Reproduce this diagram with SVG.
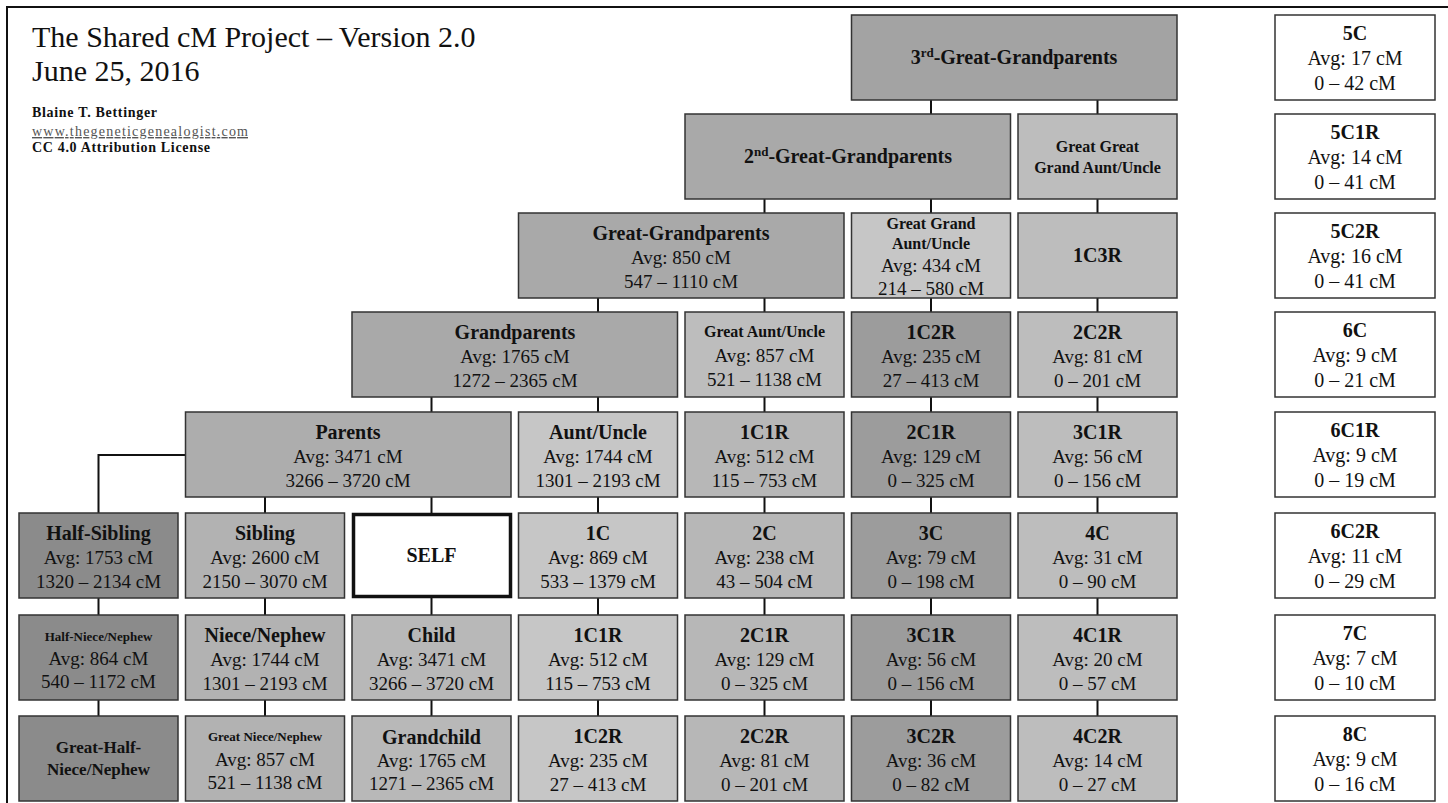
<svg xmlns="http://www.w3.org/2000/svg" width="1448" height="803" viewBox="0 0 1448 803">
<defs>
<style>
.bg{fill:#fff}
.frame{fill:none;stroke:#111;stroke-width:2}
.box{stroke:#333;stroke-width:1.5}
.self{fill:#fff;stroke:#111;stroke-width:3.5}
.t{font-family:"Liberation Serif","Times New Roman",serif;fill:#111;text-anchor:middle}
.b{font-weight:bold;font-size:20px}
.v{font-size:19px}
.r{font-size:20px}
.s16{font-weight:bold;font-size:16px}
.s13{font-weight:bold;font-size:13px}
.s17{font-weight:bold;font-size:17px}
.hd{font-family:"Liberation Serif","Times New Roman",serif;fill:#111}
.conn line,.conn path{stroke:#111;stroke-width:2;fill:none}
.f3g{fill:#a3a3a3}.fan{fill:#a9a9a9}.fpa{fill:#adadad}.fl{fill:#c6c6c6}.fc5{fill:#b7b7b7}.fc6{fill:#9c9c9c}.fc7{fill:#bdbdbd}.fc1{fill:#8b8b8b}.fc2{fill:#b2b2b2}.fc3{fill:#b8b8b8}.fw{fill:#fff}
</style>
</defs>
<rect class="bg" x="0" y="0" width="1448" height="803"/>
<path class="frame" d="M7,803 V7 H1448"/>

<g id="header">
<text class="hd" x="32" y="47" font-size="30">The Shared cM Project – Version 2.0</text>
<text class="hd" x="32" y="81" font-size="30">June 25, 2016</text>
<text class="hd" x="32" y="117" font-size="14" font-weight="bold" textLength="125" lengthAdjust="spacing">Blaine T. Bettinger</text>
<text class="hd" x="32" y="136" font-size="14" fill="#555" style="fill:#555" text-decoration="underline" textLength="216" lengthAdjust="spacing">www.thegeneticgenealogist.com</text>
<text class="hd" x="32" y="152" font-size="14" font-weight="bold" textLength="178" lengthAdjust="spacing">CC 4.0 Attribution License</text>
</g>

<g id="connectors" class="conn">
<line x1="931" y1="100" x2="931" y2="114"/>
<line x1="1097.5" y1="100" x2="1097.5" y2="114"/>
<line x1="764.5" y1="199" x2="764.5" y2="213"/>
<line x1="931" y1="199" x2="931" y2="213"/>
<line x1="1097.5" y1="199" x2="1097.5" y2="213"/>
<line x1="598" y1="298" x2="598" y2="312"/>
<line x1="764.5" y1="298" x2="764.5" y2="312"/>
<line x1="931" y1="298" x2="931" y2="312"/>
<line x1="1097.5" y1="298" x2="1097.5" y2="312"/>
<line x1="431.5" y1="397" x2="431.5" y2="412"/>
<line x1="598" y1="397" x2="598" y2="412"/>
<line x1="764.5" y1="397" x2="764.5" y2="412"/>
<line x1="931" y1="397" x2="931" y2="412"/>
<line x1="1097.5" y1="397" x2="1097.5" y2="412"/>
<path d="M185.5,455 H98.5 V513"/>
<line x1="265" y1="497" x2="265" y2="513"/>
<line x1="431.5" y1="497" x2="431.5" y2="513"/>
<line x1="598" y1="497" x2="598" y2="513"/>
<line x1="764.5" y1="497" x2="764.5" y2="513"/>
<line x1="931" y1="497" x2="931" y2="513"/>
<line x1="1097.5" y1="497" x2="1097.5" y2="513"/>
<line x1="98.5" y1="598" x2="98.5" y2="615"/>
<line x1="265" y1="598" x2="265" y2="615"/>
<line x1="431.5" y1="598" x2="431.5" y2="615"/>
<line x1="598" y1="598" x2="598" y2="615"/>
<line x1="764.5" y1="598" x2="764.5" y2="615"/>
<line x1="931" y1="598" x2="931" y2="615"/>
<line x1="1097.5" y1="598" x2="1097.5" y2="615"/>
<line x1="98.5" y1="700" x2="98.5" y2="716"/>
<line x1="265" y1="700" x2="265" y2="716"/>
<line x1="431.5" y1="700" x2="431.5" y2="716"/>
<line x1="598" y1="700" x2="598" y2="716"/>
<line x1="764.5" y1="700" x2="764.5" y2="716"/>
<line x1="931" y1="700" x2="931" y2="716"/>
<line x1="1097.5" y1="700" x2="1097.5" y2="716"/>
</g>

<!-- Row 1 -->
<g id="n-3ggp"><rect class="box f3g" x="851.5" y="15" width="325.5" height="85"/>
<text class="t b" x="1014" y="64">3<tspan font-size="13" dy="-7">rd</tspan><tspan dy="7">-Great-Grandparents</tspan></text></g>
<g id="n-5c"><rect class="box fw" x="1275" y="15" width="160" height="85"/>
<text class="t b" x="1355" y="40">5C</text><text class="t r" x="1355" y="65">Avg: 17 cM</text><text class="t r" x="1355" y="90">0 – 42 cM</text></g>

<!-- Row 2 -->
<g id="n-2ggp"><rect class="box fan" x="685" y="114" width="325.5" height="85"/>
<text class="t b" x="848" y="163">2<tspan font-size="13" dy="-7">nd</tspan><tspan dy="7">-Great-Grandparents</tspan></text></g>
<g id="n-ggga"><rect class="box fc7" x="1018" y="114" width="159" height="85"/>
<text class="t s16" x="1097.5" y="152">Great Great</text><text class="t s16" x="1097.5" y="173">Grand Aunt/Uncle</text></g>
<g id="n-5c1r"><rect class="box fw" x="1275" y="114" width="160" height="85"/>
<text class="t b" x="1355" y="139">5C1R</text><text class="t r" x="1355" y="164">Avg: 14 cM</text><text class="t r" x="1355" y="189">0 – 41 cM</text></g>

<!-- Row 3 -->
<g id="n-ggp"><rect class="box fan" x="518.5" y="213" width="325.5" height="85"/>
<text class="t b" x="681" y="240">Great-Grandparents</text><text class="t v" x="681" y="264">Avg: 850 cM</text><text class="t v" x="681" y="288">547 – 1110 cM</text></g>
<g id="n-gga"><rect class="box fl" x="851.5" y="213" width="159" height="85"/>
<text class="t s16" x="931" y="229">Great Grand</text><text class="t s16" x="931" y="249">Aunt/Uncle</text><text class="t v" x="931" y="272">Avg: 434 cM</text><text class="t v" x="931" y="295">214 – 580 cM</text></g>
<g id="n-1c3r"><rect class="box fc7" x="1018" y="213" width="159" height="85"/>
<text class="t b" x="1097.5" y="262">1C3R</text></g>
<g id="n-5c2r"><rect class="box fw" x="1275" y="213" width="160" height="85"/>
<text class="t b" x="1355" y="238">5C2R</text><text class="t r" x="1355" y="263">Avg: 16 cM</text><text class="t r" x="1355" y="288">0 – 41 cM</text></g>

<!-- Row 4 -->
<g id="n-gp"><rect class="box fan" x="352" y="312" width="325.5" height="85"/>
<text class="t b" x="515" y="339">Grandparents</text><text class="t v" x="515" y="363">Avg: 1765 cM</text><text class="t v" x="515" y="387">1272 – 2365 cM</text></g>
<g id="n-gau"><rect class="box fc7" x="685" y="312" width="159" height="85"/>
<text class="t s16" x="764.5" y="337">Great Aunt/Uncle</text><text class="t v" x="764.5" y="362">Avg: 857 cM</text><text class="t v" x="764.5" y="386">521 – 1138 cM</text></g>
<g id="n-1c2r-a"><rect class="box fc6" x="851.5" y="312" width="159" height="85"/>
<text class="t b" x="931" y="339">1C2R</text><text class="t v" x="931" y="363">Avg: 235 cM</text><text class="t v" x="931" y="387">27 – 413 cM</text></g>
<g id="n-2c2r-a"><rect class="box fc7" x="1018" y="312" width="159" height="85"/>
<text class="t b" x="1097.5" y="339">2C2R</text><text class="t v" x="1097.5" y="363">Avg: 81 cM</text><text class="t v" x="1097.5" y="387">0 – 201 cM</text></g>
<g id="n-6c"><rect class="box fw" x="1275" y="312" width="160" height="85"/>
<text class="t b" x="1355" y="337">6C</text><text class="t r" x="1355" y="362">Avg: 9 cM</text><text class="t r" x="1355" y="387">0 – 21 cM</text></g>

<!-- Row 5 -->
<g id="n-parents"><rect class="box fpa" x="185.5" y="412" width="325.5" height="85"/>
<text class="t b" x="348" y="439">Parents</text><text class="t v" x="348" y="463">Avg: 3471 cM</text><text class="t v" x="348" y="487">3266 – 3720 cM</text></g>
<g id="n-au"><rect class="box fl" x="518.5" y="412" width="159" height="85"/>
<text class="t b" x="598" y="439">Aunt/Uncle</text><text class="t v" x="598" y="463">Avg: 1744 cM</text><text class="t v" x="598" y="487">1301 – 2193 cM</text></g>
<g id="n-1c1r-a"><rect class="box fc5" x="685" y="412" width="159" height="85"/>
<text class="t b" x="764.5" y="439">1C1R</text><text class="t v" x="764.5" y="463">Avg: 512 cM</text><text class="t v" x="764.5" y="487">115 – 753 cM</text></g>
<g id="n-2c1r-a"><rect class="box fc6" x="851.5" y="412" width="159" height="85"/>
<text class="t b" x="931" y="439">2C1R</text><text class="t v" x="931" y="463">Avg: 129 cM</text><text class="t v" x="931" y="487">0 – 325 cM</text></g>
<g id="n-3c1r-a"><rect class="box fc7" x="1018" y="412" width="159" height="85"/>
<text class="t b" x="1097.5" y="439">3C1R</text><text class="t v" x="1097.5" y="463">Avg: 56 cM</text><text class="t v" x="1097.5" y="487">0 – 156 cM</text></g>
<g id="n-6c1r"><rect class="box fw" x="1275" y="412" width="160" height="85"/>
<text class="t b" x="1355" y="437">6C1R</text><text class="t r" x="1355" y="462">Avg: 9 cM</text><text class="t r" x="1355" y="487">0 – 19 cM</text></g>

<!-- Row 6 -->
<g id="n-halfsib"><rect class="box fc1" x="19" y="513" width="159" height="85"/>
<text class="t b" x="98.5" y="540">Half-Sibling</text><text class="t v" x="98.5" y="564">Avg: 1753 cM</text><text class="t v" x="98.5" y="588">1320 – 2134 cM</text></g>
<g id="n-sibling"><rect class="box fc2" x="185.5" y="513" width="159" height="85"/>
<text class="t b" x="265" y="540">Sibling</text><text class="t v" x="265" y="564">Avg: 2600 cM</text><text class="t v" x="265" y="588">2150 – 3070 cM</text></g>
<g id="n-self"><rect class="self" x="353.5" y="514.5" width="157" height="82"/>
<text class="t b" x="431.5" y="562">SELF</text></g>
<g id="n-1c"><rect class="box fl" x="518.5" y="513" width="159" height="85"/>
<text class="t b" x="598" y="540">1C</text><text class="t v" x="598" y="564">Avg: 869 cM</text><text class="t v" x="598" y="588">533 – 1379 cM</text></g>
<g id="n-2c"><rect class="box fc5" x="685" y="513" width="159" height="85"/>
<text class="t b" x="764.5" y="540">2C</text><text class="t v" x="764.5" y="564">Avg: 238 cM</text><text class="t v" x="764.5" y="588">43 – 504 cM</text></g>
<g id="n-3c"><rect class="box fc6" x="851.5" y="513" width="159" height="85"/>
<text class="t b" x="931" y="540">3C</text><text class="t v" x="931" y="564">Avg: 79 cM</text><text class="t v" x="931" y="588">0 – 198 cM</text></g>
<g id="n-4c"><rect class="box fc7" x="1018" y="513" width="159" height="85"/>
<text class="t b" x="1097.5" y="540">4C</text><text class="t v" x="1097.5" y="564">Avg: 31 cM</text><text class="t v" x="1097.5" y="588">0 – 90 cM</text></g>
<g id="n-6c2r"><rect class="box fw" x="1275" y="513" width="160" height="85"/>
<text class="t b" x="1355" y="538">6C2R</text><text class="t r" x="1355" y="563">Avg: 11 cM</text><text class="t r" x="1355" y="588">0 – 29 cM</text></g>

<!-- Row 7 -->
<g id="n-halfniece"><rect class="box fc1" x="19" y="615" width="159" height="85"/>
<text class="t s13" x="98.5" y="641">Half-Niece/Nephew</text><text class="t v" x="98.5" y="665">Avg: 864 cM</text><text class="t v" x="98.5" y="688">540 – 1172 cM</text></g>
<g id="n-niece"><rect class="box fc2" x="185.5" y="615" width="159" height="85"/>
<text class="t b" x="265" y="642">Niece/Nephew</text><text class="t v" x="265" y="666">Avg: 1744 cM</text><text class="t v" x="265" y="690">1301 – 2193 cM</text></g>
<g id="n-child"><rect class="box fc3" x="352" y="615" width="159" height="85"/>
<text class="t b" x="431.5" y="642">Child</text><text class="t v" x="431.5" y="666">Avg: 3471 cM</text><text class="t v" x="431.5" y="690">3266 – 3720 cM</text></g>
<g id="n-1c1r-b"><rect class="box fl" x="518.5" y="615" width="159" height="85"/>
<text class="t b" x="598" y="642">1C1R</text><text class="t v" x="598" y="666">Avg: 512 cM</text><text class="t v" x="598" y="690">115 – 753 cM</text></g>
<g id="n-2c1r-b"><rect class="box fc5" x="685" y="615" width="159" height="85"/>
<text class="t b" x="764.5" y="642">2C1R</text><text class="t v" x="764.5" y="666">Avg: 129 cM</text><text class="t v" x="764.5" y="690">0 – 325 cM</text></g>
<g id="n-3c1r-b"><rect class="box fc6" x="851.5" y="615" width="159" height="85"/>
<text class="t b" x="931" y="642">3C1R</text><text class="t v" x="931" y="666">Avg: 56 cM</text><text class="t v" x="931" y="690">0 – 156 cM</text></g>
<g id="n-4c1r"><rect class="box fc7" x="1018" y="615" width="159" height="85"/>
<text class="t b" x="1097.5" y="642">4C1R</text><text class="t v" x="1097.5" y="666">Avg: 20 cM</text><text class="t v" x="1097.5" y="690">0 – 57 cM</text></g>
<g id="n-7c"><rect class="box fw" x="1275" y="615" width="160" height="85"/>
<text class="t b" x="1355" y="640">7C</text><text class="t r" x="1355" y="665">Avg: 7 cM</text><text class="t r" x="1355" y="690">0 – 10 cM</text></g>

<!-- Row 8 -->
<g id="n-greathalfniece"><rect class="box fc1" x="19" y="716" width="159" height="85"/>
<text class="t s17" x="98.5" y="753">Great-Half-</text><text class="t s17" x="98.5" y="775">Niece/Nephew</text></g>
<g id="n-greatniece"><rect class="box fc2" x="185.5" y="716" width="159" height="85"/>
<text class="t s13" x="265" y="741">Great Niece/Nephew</text><text class="t v" x="265" y="766">Avg: 857 cM</text><text class="t v" x="265" y="789">521 – 1138 cM</text></g>
<g id="n-grandchild"><rect class="box fc3" x="352" y="716" width="159" height="85"/>
<text class="t b" x="431.5" y="744">Grandchild</text><text class="t v" x="431.5" y="767">Avg: 1765 cM</text><text class="t v" x="431.5" y="790">1271 – 2365 cM</text></g>
<g id="n-1c2r-b"><rect class="box fl" x="518.5" y="716" width="159" height="85"/>
<text class="t b" x="598" y="743">1C2R</text><text class="t v" x="598" y="767">Avg: 235 cM</text><text class="t v" x="598" y="791">27 – 413 cM</text></g>
<g id="n-2c2r-b"><rect class="box fc5" x="685" y="716" width="159" height="85"/>
<text class="t b" x="764.5" y="743">2C2R</text><text class="t v" x="764.5" y="767">Avg: 81 cM</text><text class="t v" x="764.5" y="791">0 – 201 cM</text></g>
<g id="n-3c2r"><rect class="box fc6" x="851.5" y="716" width="159" height="85"/>
<text class="t b" x="931" y="743">3C2R</text><text class="t v" x="931" y="767">Avg: 36 cM</text><text class="t v" x="931" y="791">0 – 82 cM</text></g>
<g id="n-4c2r"><rect class="box fc7" x="1018" y="716" width="159" height="85"/>
<text class="t b" x="1097.5" y="743">4C2R</text><text class="t v" x="1097.5" y="767">Avg: 14 cM</text><text class="t v" x="1097.5" y="791">0 – 27 cM</text></g>
<g id="n-8c"><rect class="box fw" x="1275" y="716" width="160" height="85"/>
<text class="t b" x="1355" y="741">8C</text><text class="t r" x="1355" y="766">Avg: 9 cM</text><text class="t r" x="1355" y="791">0 – 16 cM</text></g>
</svg>
